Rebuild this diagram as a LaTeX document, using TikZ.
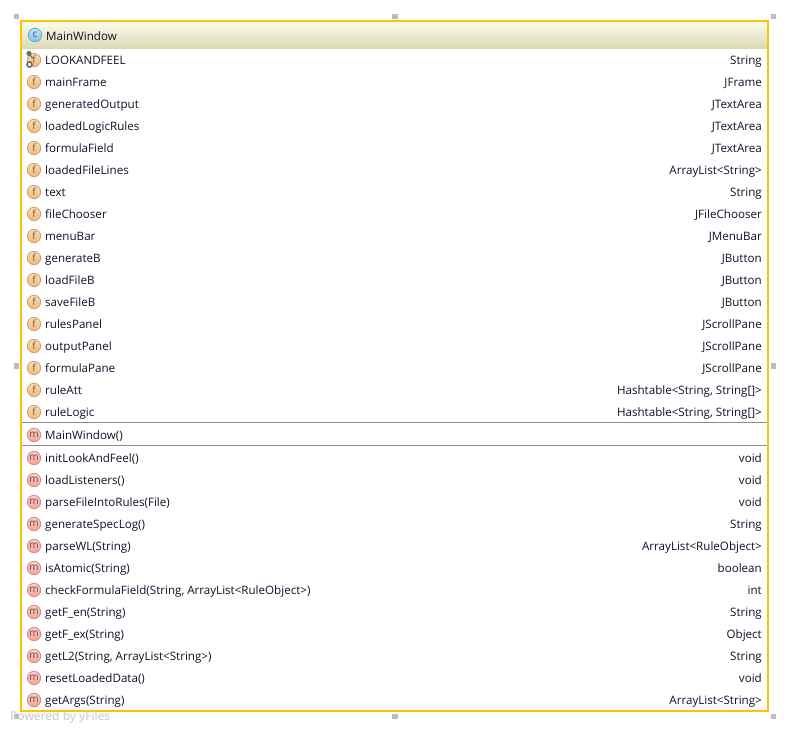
\documentclass[tikz,border=0pt]{standalone}
\usepackage{fontspec}
\setmainfont{Open Sans}
\definecolor{frameY}{HTML}{FFC300}
\definecolor{handleG}{HTML}{BDBDBD}
\definecolor{sepG}{HTML}{8C8C8C}
\definecolor{txt}{HTML}{10102A}
\definecolor{fTop}{HTML}{FBDDB4}
\definecolor{fBot}{HTML}{F2B777}
\definecolor{fEdge}{HTML}{C9A06E}
\definecolor{fInk}{HTML}{6B5A45}
\definecolor{mTop}{HTML}{FFCFC8}
\definecolor{mBot}{HTML}{F9A097}
\definecolor{mEdge}{HTML}{CC8C86}
\definecolor{mInk}{HTML}{5E4A48}
\definecolor{cTop}{HTML}{C4E4F8}
\definecolor{cBot}{HTML}{85C3EC}
\definecolor{cEdge}{HTML}{6FA2C4}
\definecolor{cInk}{HTML}{3F5870}
\definecolor{headTop}{HTML}{FCFCEC}
\definecolor{headBot}{HTML}{DADAB6}
\tikzset{
  x=1pt,y=-1pt,
  handle/.style={fill=handleG,draw=none,minimum size=5.5pt,inner sep=0,outer sep=0},
  lbl/.style={anchor=base west,inner sep=0,text=txt,font=\fontsize{11.6}{14}\selectfont},
  typ/.style={anchor=base east,inner sep=0,text=txt,font=\fontsize{11.6}{14}\selectfont},
  badge/.style={circle,minimum size=13.4pt,inner sep=0,line width=.8pt,font=\fontsize{10}{10}\selectfont},
  fieldico/.style={badge,draw=fEdge,top color=fTop,bottom color=fBot,text=fInk},
  methico/.style={badge,draw=mEdge,top color=mTop,bottom color=mBot,text=mInk},
  classico/.style={badge,draw=cEdge,top color=cTop,bottom color=cBot,text=cInk},
  sep/.style={draw=sepG,line width=1pt},
}
\newcommand{\rowF}[4]{%
  \node[fieldico] (fi#1) at (34,#2) {f};
  \node[lbl] (fn#1) at (45,#2+4.3) {#3};
  \node[typ] (ft#1) at (762,#2+4.3) {#4};
}
\newcommand{\rowM}[4]{%
  \node[methico] (mi#1) at (34,#2) {m};
  \node[lbl] (mn#1) at (45,#2+4.3) {#3};
  \node[typ] (mt#1) at (762,#2+4.3) {#4};
}
\begin{document}
\begin{tikzpicture}
\useasboundingbox (0,0) rectangle (789,732);
\fill[white] (0,0) rectangle (789,732);
% header
\shade[top color=headTop,bottom color=headBot] (21,22) rectangle (768,48);
\node[classico] (ci) at (35,35) {c};
\node[lbl] (title) at (46,40) {MainWindow};
% fields
\rowF{a}{60}{LOOKANDFEEL}{String}
\rowF{b}{82}{mainFrame}{JFrame}
\rowF{c}{104}{generatedOutput}{JTextArea}
\rowF{d}{126}{loadedLogicRules}{JTextArea}
\rowF{e}{148}{formulaField}{JTextArea}
\rowF{f}{170}{loadedFileLines}{ArrayList<String>}
\rowF{g}{192}{text}{String}
\rowF{h}{214}{fileChooser}{JFileChooser}
\rowF{i}{236}{menuBar}{JMenuBar}
\rowF{j}{258}{generateB}{JButton}
\rowF{k}{280}{loadFileB}{JButton}
\rowF{l}{302}{saveFileB}{JButton}
\rowF{m}{324}{rulesPanel}{JScrollPane}
\rowF{n}{346}{outputPanel}{JScrollPane}
\rowF{o}{368}{formulaPane}{JScrollPane}
\rowF{p}{390}{ruleAtt}{Hashtable<String, String[]>}
\rowF{q}{412}{ruleLogic}{Hashtable<String, String[]>}
% static/final overlay
\fill[gray!85!black] (29,53.5) circle (2.6);
\draw[gray!85!black,line width=1.2pt] (29,53.5) -- (32.5,58);
\draw[gray!80!black,line width=1.5pt,fill=white] (29.5,64.5) circle (2.6);
% separators
\draw[sep] (22,422.5) -- (767,422.5);
\draw[sep] (22,445) -- (767,445);
% constructor and methods
\rowM{a}{435}{MainWindow()}{}
\rowM{b}{458}{initLookAndFeel()}{void}
\rowM{c}{480}{loadListeners()}{void}
\rowM{d}{502}{parseFileIntoRules(File)}{void}
\rowM{e}{524}{generateSpecLog()}{String}
\rowM{f}{546}{parseWL(String)}{ArrayList<RuleObject>}
\rowM{g}{568}{isAtomic(String)}{boolean}
\rowM{h}{590}{checkFormulaField(String, ArrayList<RuleObject>)}{int}
\rowM{i}{612}{getF\_en(String)}{String}
\rowM{j}{634}{getF\_ex(String)}{Object}
\rowM{k}{656}{getL2(String, ArrayList<String>)}{String}
\rowM{l}{678}{resetLoadedData()}{void}
\rowM{m}{700}{getArgs(String)}{ArrayList<String>}
% frame
\draw[frameY,line width=2pt] (21,21) rectangle (768,711);
% handles
\node[handle] (h1) at (16.5,16.5) {};
\node[handle] (h2) at (395,16.5) {};
\node[handle] (h3) at (773.5,16.5) {};
\node[handle] (h4) at (16.5,366) {};
\node[handle] (h5) at (773.5,366) {};
\node[handle] (h6) at (16.5,716.5) {};
\node[handle] (h7) at (395,716.5) {};
\node[handle] (h8) at (773.5,716.5) {};
\node[anchor=base west,inner sep=0,text=black!22,font=\fontsize{12.1}{14}\selectfont] (pw) at (10,720) {Powered by yFiles};
\end{tikzpicture}
\end{document}
